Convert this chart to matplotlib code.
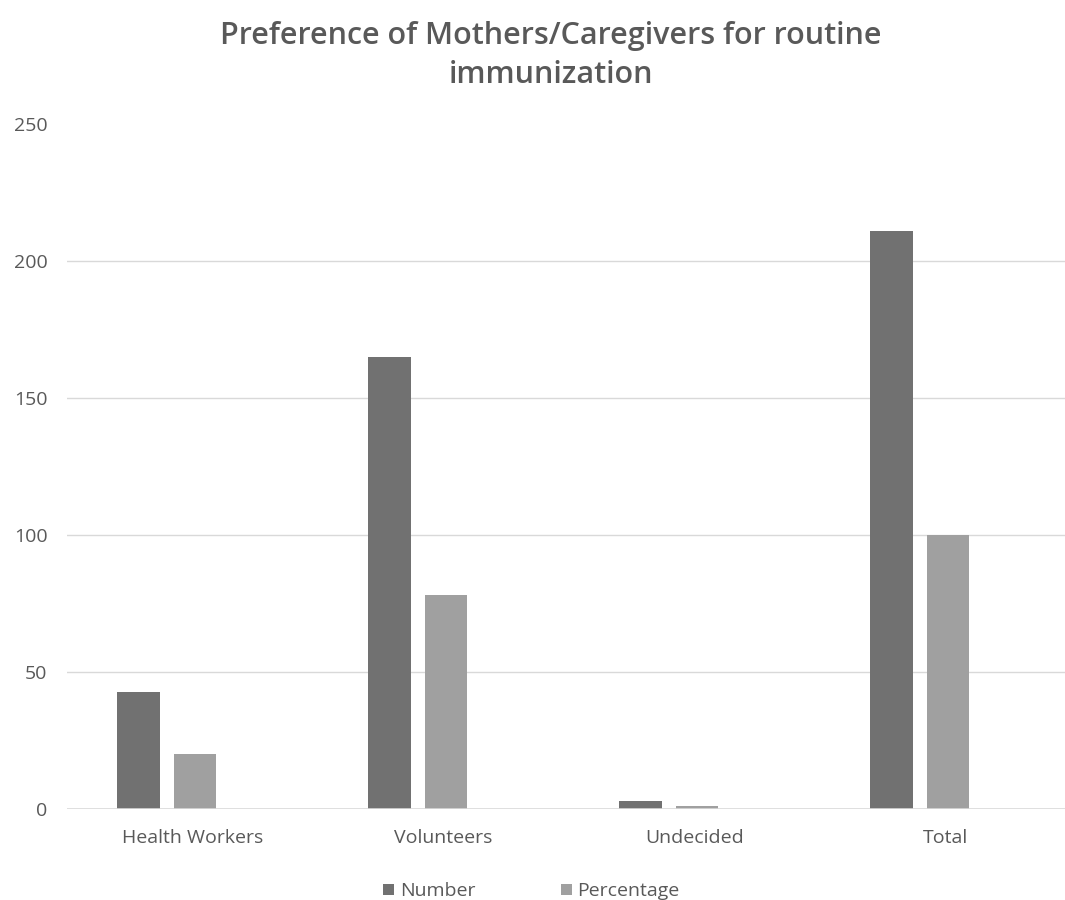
import numpy as np
import matplotlib
matplotlib.use('Agg')
import matplotlib.pyplot as plt

categories = ['Health Workers', 'Volunteers', 'Undecided', 'Total']
number = [43, 165, 3, 211]
percentage = [20.4, 78.2, 1.4, 100]
y_ticks = [0, 50, 100, 150, 200, 250]

TEXT = '#595959'
plt.rcParams['font.family'] = ['Open Sans', 'DejaVu Sans']

fig = plt.figure(figsize=(10.65, 9), dpi=100)
ax = fig.add_axes([0.0629, 0.1006, 0.9427, 0.7611])

x = np.arange(len(categories))
width = 0.169
ax.bar(x - 0.215, number, width, color='#717171', label='Number', zorder=3)
ax.bar(x + 0.010, percentage, width, color='#a0a0a0', label='Percentage', zorder=3)

ax.set_xlim(-0.5, len(categories) - 0.5)
ax.set_ylim(0, 250)
ax.set_yticks(y_ticks)
ax.set_xticks(x)
ax.set_xticklabels(categories)

# light horizontal gridlines, none at the very top
for t in y_ticks[1:-1]:
    ax.axhline(t, color='#d9d9d9', lw=1, zorder=1)
ax.axhline(0, color='#d9d9d9', lw=1.2, zorder=4)

for s in ax.spines.values():
    s.set_visible(False)
ax.tick_params(axis='both', length=0, colors=TEXT, labelsize=14)
ax.tick_params(axis='y', pad=14)
ax.tick_params(axis='x', pad=14)

fig.text(0.517, 0.977, 'Preference of Mothers/Caregivers for routine\nimmunization',
         ha='center', va='top', fontsize=22, fontweight='semibold', color=TEXT,
         linespacing=1.4)

fig.legend(loc='lower center', bbox_to_anchor=(0.499, -0.02), ncol=2, frameon=False,
           fontsize=14, labelcolor=TEXT, handlelength=0.55, handleheight=0.55,
           handletextpad=0.3, columnspacing=4.4)

fig.savefig('out.png', dpi=100)
